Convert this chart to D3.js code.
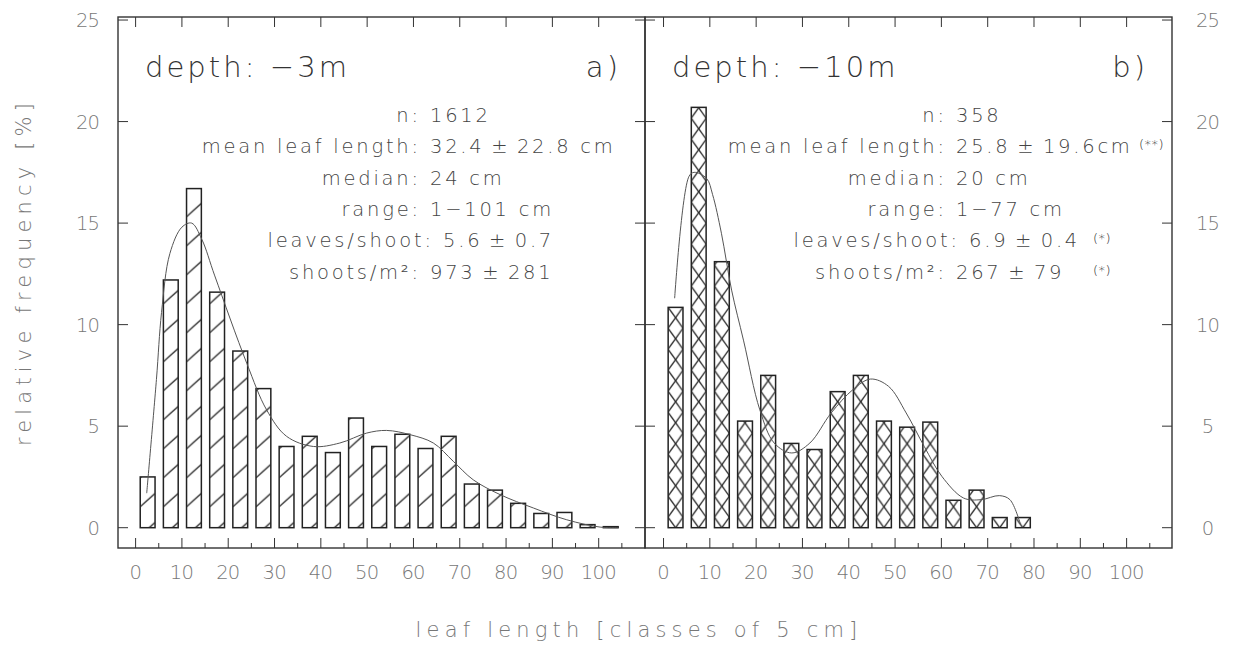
<!DOCTYPE html>
<html>
<head>
<meta charset="utf-8">
<script src="https://cdn.jsdelivr.net/npm/d3@7"></script>
<style>
  body { margin: 0; background: #fff; }
  text { font-family: 'DejaVu Sans ExtraLight', 'DejaVu Sans', sans-serif; font-weight: 200; }
  .depth { font-size: 29px; fill: #333; }
  .stat { font-size: 19.5px; fill: #444; }
  .note { font-size: 13px; fill: #222; }
  .tick { font-size: 19.5px; fill: #777; }
  .title { font-size: 21px; fill: #777; }
</style>
</head>
<body>
<div id="root"></div>
<script>
// leaf length classes (cm), lower bound of each 5 cm class
var classesA = d3.range(0, 105, 5);
var classesB = d3.range(0, 80, 5);

// relative frequency [%]
var freqA = [2.5, 12.2, 16.7, 11.6, 8.7, 6.85, 4.0, 4.5, 3.7, 5.4, 4.0, 4.6, 3.9, 4.5, 2.15, 1.85, 1.2, 0.7, 0.75, 0.15, 0.05];
var freqB = [10.85, 20.7, 13.1, 5.25, 7.5, 4.15, 3.85, 6.7, 7.5, 5.25, 4.95, 5.2, 1.35, 1.85, 0.5, 0.5];

// smoothed distribution lines [leaf length, %]
var curveA = [[2.4, 1.7], [4.5, 7.3], [5.6, 10.6], [7.4, 13.5], [10.0, 14.8], [12.1, 15.0], [14.3, 14.2],
  [17.1, 12.4], [24.0, 8.1], [28.3, 5.8], [32.6, 4.5], [38.4, 4.0], [44.1, 4.17], [49.9, 4.66],
  [54.2, 4.79], [59.3, 4.58], [64.3, 4.17], [68.6, 3.27], [72.9, 2.36], [78.7, 1.63], [85.9, 0.97],
  [93.1, 0.39], [100.3, 0.03], [104.2, 0]];
var curveB = [[2.4, 11.3], [5.5, 17.3], [6.6, 17.5], [9.3, 17.2], [10.6, 16.4], [12.5, 14.5], [14.7, 11.7],
  [17.3, 9.2], [20.8, 5.8], [23.9, 4.17], [27.7, 3.68], [31.6, 4.17], [36.2, 5.65], [40.9, 6.8],
  [44.7, 7.32], [48.6, 6.96], [52.4, 5.65], [56.3, 4.0], [60.1, 2.53], [64.8, 1.46], [68.6, 1.38],
  [72.5, 1.58], [74.8, 1.38], [77.1, 0.15]];

var xTicks = d3.range(0, 101, 10);
var xMinorTicks = d3.range(5, 106, 10);
var yTicks = [0, 5, 10, 15, 20, 25];

var statLabels = ['n:', 'mean leaf length:', 'median:', 'range:', 'leaves/shoot:', 'shoots/m\u00b2:'];
var statsA = ['1612', '32.4\u2009\u00b1\u200922.8 cm', '24 cm', '1\u2212101 cm', '5.6\u2009\u00b1\u20090.7', '973\u2009\u00b1\u2009281'];
var statsB = ['358', '25.8\u2009\u00b1\u200919.6cm', '20 cm', '1\u221277 cm', '6.9\u2009\u00b1\u20090.4', '267\u2009\u00b1\u200979'];
var notesB = ['', '(**)', '', '', '(*)', '(*)'];

var w = 1239,
    h = 651;

var svg = d3.select('#root')
  .append('svg')
    .attr('width', w)
    .attr('height', h);

var y = d3.scaleLinear()
    .domain([-1, 25.15])
    .range([548, 17]);

var panels = [
  { x0: 118, x1: 645, domain: [-3.8, 110], classes: classesA, freq: freqA, curve: curveA,
    depth: 'depth: \u22123m', tag: 'a)', stats: statsA, notes: [], colon: 418, hatch: 'single' },
  { x0: 645, x1: 1172, domain: [-4, 109.8], classes: classesB, freq: freqB, curve: curveB,
    depth: 'depth: \u221210m', tag: 'b)', stats: statsB, notes: notesB, colon: 944, hatch: 'cross' }
];
var noteX = [0, 1139, 0, 0, 1093, 1093];
var leavesShift = [0, 0, 0, 0, 13, 0];

// letter spacing so the font takes the wide look of the plot font
function spacingFor(cls, sample, target) {
  var t = svg.append('text').attr('class', cls).text(sample);
  var len = t.node().getComputedTextLength();
  t.remove();
  return (target - len) / sample.length;
}
var lsDepth = spacingFor('depth', 'depth: \u22123m', 205);
var lsStat = spacingFor('stat', 'mean leaf length:', 219);
var lsTick = spacingFor('tick', '100', 35);
var lsTitle = spacingFor('title', 'leaf length  [classes of 5 cm]', 452);

var defs = svg.append('defs');
var ink = '#222';

panels.forEach(function (p, pi) {
  var x = d3.scaleLinear().domain(p.domain).range([p.x0, p.x1]);
  var g = svg.append('g');
  var bw = x(4.2) - x(1.0);
  var step = x(5) - x(0);

  // hatch pattern, anchored on the zero line
  var pat = defs.append('pattern')
      .attr('id', 'hatch' + pi)
      .attr('patternUnits', 'userSpaceOnUse')
      .attr('x', x(1.0))
      .attr('y', y(0))
      .attr('width', step)
      .attr('height', p.hatch === 'single' ? 29 : 21);
  var segs = p.hatch === 'single'
    ? [[0, 8, bw, -5.3], [0, 37, bw, 23.7]]
    : [[0, -10.5, bw, 10.5], [0, 10.5, bw, -10.5], [0, 10.5, bw, 31.5], [0, 31.5, bw, 10.5]];
  pat.selectAll('line')
      .data(segs)
    .enter().append('line')
      .attr('x1', function (d) { return d[0]; })
      .attr('y1', function (d) { return d[1]; })
      .attr('x2', function (d) { return d[2]; })
      .attr('y2', function (d) { return d[3]; })
      .attr('stroke', ink)
      .attr('stroke-width', 1.3);

  // bars
  g.selectAll('.bar')
      .data(p.freq)
    .enter().append('rect')
      .attr('class', 'bar')
      .attr('x', function (d, i) { return x(p.classes[i] + 1.0); })
      .attr('width', bw)
      .attr('y', function (d) { return y(d); })
      .attr('height', function (d) { return y(0) - y(d); })
      .attr('fill', 'url(#hatch' + pi + ')')
      .attr('stroke', ink)
      .attr('stroke-width', 1.5);

  // smoothed line
  var line = d3.line()
      .x(function (d) { return x(d[0]); })
      .y(function (d) { return y(d[1]); })
      .curve(d3.curveCatmullRom.alpha(0.5));
  g.append('path')
      .datum(p.curve)
      .attr('d', line)
      .attr('fill', 'none')
      .attr('stroke', '#555')
      .attr('stroke-width', 1);

  // frame
  g.append('rect')
      .attr('x', p.x0)
      .attr('y', y(25.15))
      .attr('width', p.x1 - p.x0)
      .attr('height', y(-1) - y(25.15))
      .attr('fill', 'none')
      .attr('stroke', '#333')
      .attr('stroke-width', 1.4);

  // x ticks, bottom and top
  g.selectAll('.xmaj')
      .data(xTicks)
    .enter().append('line')
      .attr('x1', function (d) { return x(d); })
      .attr('x2', function (d) { return x(d); })
      .attr('y1', y(-1))
      .attr('y2', y(-1) - 10)
      .attr('stroke', '#333');
  g.selectAll('.xmin')
      .data(xMinorTicks)
    .enter().append('line')
      .attr('x1', function (d) { return x(d); })
      .attr('x2', function (d) { return x(d); })
      .attr('y1', y(-1))
      .attr('y2', y(-1) - 5)
      .attr('stroke', '#333');
  g.selectAll('.xtop')
      .data(xTicks)
    .enter().append('line')
      .attr('x1', function (d) { return x(d); })
      .attr('x2', function (d) { return x(d); })
      .attr('y1', y(25.15))
      .attr('y2', y(25.15) + 10)
      .attr('stroke', '#333');

  // y ticks on both sides, pointing in
  [[p.x0, p.x0 + 10], [p.x1 - 10, p.x1]].forEach(function (s) {
    g.selectAll(null)
        .data(yTicks)
      .enter().append('line')
        .attr('x1', s[0])
        .attr('x2', s[1])
        .attr('y1', function (d) { return y(d); })
        .attr('y2', function (d) { return y(d); })
        .attr('stroke', '#333');
  });

  // x tick labels
  g.selectAll('.xlab')
      .data(xTicks)
    .enter().append('text')
      .attr('class', 'tick')
      .attr('x', function (d) { return x(d) + lsTick / 2; })
      .attr('y', 579)
      .attr('text-anchor', 'middle')
      .style('letter-spacing', lsTick + 'px')
      .text(function (d) { return d; });

  // panel texts
  g.append('text')
      .attr('class', 'depth')
      .attr('x', p.x0 + 27)
      .attr('y', 77)
      .style('letter-spacing', lsDepth + 'px')
      .text(p.depth);
  g.append('text')
      .attr('class', 'depth')
      .attr('x', p.x1 - 27 + lsDepth)
      .attr('y', 77)
      .attr('text-anchor', 'end')
      .style('letter-spacing', lsDepth + 'px')
      .text(p.tag);

  statLabels.forEach(function (lab, i) {
    var ty = 122 + i * 31.3;
    var cx = p.colon + leavesShift[i];
    g.append('text')
        .attr('class', 'stat')
        .attr('x', cx + lsStat)
        .attr('y', ty)
        .attr('text-anchor', 'end')
        .style('letter-spacing', lsStat + 'px')
        .text(lab);
    g.append('text')
        .attr('class', 'stat')
        .attr('x', cx + 12)
        .attr('y', ty)
        .style('letter-spacing', lsStat + 'px')
        .text(p.stats[i]);
    if (p.notes[i]) {
      g.append('text')
          .attr('class', 'note')
          .attr('x', noteX[i])
          .attr('y', ty - 4)
          .style('letter-spacing', '0.5px')
          .text(p.notes[i]);
    }
  });
});

// y tick labels, left and right
svg.selectAll('.ylabL')
    .data(yTicks)
  .enter().append('text')
    .attr('class', 'tick')
    .attr('x', 100 + lsTick)
    .attr('y', function (d) { return y(d) + 7; })
    .attr('text-anchor', 'end')
    .style('letter-spacing', lsTick + 'px')
    .text(function (d) { return d; });
svg.selectAll('.ylabR')
    .data(yTicks)
  .enter().append('text')
    .attr('class', 'tick')
    .attr('x', 1208 + lsTick / 2)
    .attr('y', function (d) { return y(d) + 7; })
    .attr('text-anchor', 'middle')
    .style('letter-spacing', lsTick + 'px')
    .text(function (d) { return d; });

// axis titles
svg.append('text')
    .attr('class', 'title')
    .attr('x', 639)
    .attr('y', 637)
    .attr('text-anchor', 'middle')
    .style('letter-spacing', lsTitle + 'px')
    .text('leaf length  [classes of 5 cm]');
svg.append('text')
    .attr('class', 'title')
    .attr('transform', 'translate(31,272) rotate(-90)')
    .attr('text-anchor', 'middle')
    .style('letter-spacing', lsTitle + 'px')
    .text('relative frequency  [%]');
</script>
</body>
</html>
